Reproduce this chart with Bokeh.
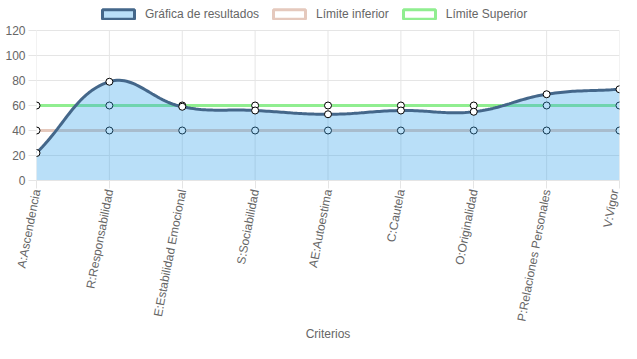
import numpy as np
from bokeh.plotting import figure
from bokeh.models import Range1d, FixedTicker, Legend, LegendItem
from bokeh.embed import file_html
from bokeh.resources import INLINE

# ---- data ----
categories = ["A:Ascendencia", "R:Responsabilidad", "E:Estabilidad Emocional",
              "S:Sociabilidad", "AE:Autoestima", "C:Cautela", "O:Originalidad",
              "P:Relaciones Personales", "V:Vigor"]
resultados = [22, 79, 59, 56, 53, 56, 55, 69, 73]
limite_inferior = [40, 40, 40, 40, 40, 40, 40, 40, 40]
limite_superior = [60, 60, 60, 60, 60, 60, 60, 60, 60]
y_ticks = [0, 20, 40, 60, 80, 100, 120]

FONT = "Liberation Sans"
GRID = "#e5e5e5"
TXT = "#666666"
C_RES_LINE = "#44678a"
C_RES_FILL = "rgb(54,162,235)"
C_LOW = "#e5c9bd"
C_UP = "#90ee90"

xs = list(range(len(categories)))
y_top = y_ticks[-1]
NAN = [float("nan")]


def chartjs_spline(x, y, sx, sy, ymin, ymax, tension=0.4, steps=30):
    """Cubic bezier path as drawn by Chart.js (tension 0.4)."""
    P = np.column_stack([np.asarray(x, float) * sx, np.asarray(y, float) * sy])
    n = len(P)
    cpp = P.copy()
    cpn = P.copy()
    for i in range(n):
        prev = P[i - 1] if i > 0 else P[i]
        nxt = P[i + 1] if i < n - 1 else P[i]
        d01 = np.hypot(*(P[i] - prev))
        d12 = np.hypot(*(nxt - P[i]))
        tot = d01 + d12
        s01 = d01 / tot if tot else 0.0
        s12 = d12 / tot if tot else 0.0
        cpp[i] = P[i] - tension * s01 * (nxt - prev)
        cpn[i] = P[i] + tension * s12 * (nxt - prev)
    cpp[:, 1] = np.clip(cpp[:, 1], ymin * sy, ymax * sy)
    cpn[:, 1] = np.clip(cpn[:, 1], ymin * sy, ymax * sy)
    t = np.linspace(0, 1, steps)[:, None]
    segs = []
    for i in range(n - 1):
        b = ((1 - t) ** 3 * P[i] + 3 * (1 - t) ** 2 * t * cpn[i]
             + 3 * (1 - t) * t ** 2 * cpp[i + 1] + t ** 3 * P[i + 1])
        segs.append(b if i == 0 else b[1:])
    B = np.vstack(segs)
    return B[:, 0] / sx, B[:, 1] / sy


# frame extends above the top tick to host the legend (like Chart.js)
p = figure(width=621, height=343, output_backend="svg", toolbar_location=None,
           x_range=Range1d(0, 8), y_range=Range1d(0, y_top * 1.2),
           min_border_left=36, min_border_right=2, min_border_top=0,
           min_border_bottom=0)
p.outline_line_color = None
p.background_fill_color = "white"
p.border_fill_color = "white"

# grids
p.xgrid.grid_line_color = None
p.ygrid.ticker = FixedTicker(ticks=y_ticks)
p.ygrid.grid_line_color = GRID
p.segment(x0=xs, y0=[0] * len(xs), x1=xs, y1=[y_top] * len(xs),
          line_color=GRID, line_width=1)

# axes
p.xaxis.ticker = FixedTicker(ticks=xs)
p.xaxis.major_label_overrides = {i: c for i, c in enumerate(categories)}
p.xaxis.major_label_orientation = 1.38
p.yaxis.ticker = FixedTicker(ticks=y_ticks)
for ax in (p.xaxis[0], p.yaxis[0]):
    ax.axis_line_color = GRID
    ax.major_tick_line_color = GRID
    ax.major_tick_out = 8
    ax.major_tick_in = 0
    ax.minor_tick_line_color = None
    ax.major_label_text_font = FONT
    ax.major_label_text_font_size = "12px"
    ax.major_label_text_color = TXT
    ax.major_label_standoff = 3
p.yaxis.axis_line_color = None
p.xaxis.major_label_standoff = 1
p.xaxis.axis_label = "Criterios"
p.xaxis.axis_label_text_font = FONT
p.xaxis.axis_label_text_font_size = "12px"
p.xaxis.axis_label_text_font_style = "normal"
p.xaxis.axis_label_text_color = TXT
p.xaxis.axis_label_standoff = 0

# limit lines
p.line(xs, limite_inferior, line_color=C_LOW, line_width=3)
p.scatter(xs, limite_inferior, size=7, fill_color="white", line_color="black", line_width=1)
p.line(xs, limite_superior, line_color=C_UP, line_width=3)
p.scatter(xs, limite_superior, size=7, fill_color="white", line_color="black", line_width=1)

# results (smooth curve + fill to origin)
cx, cy = chartjs_spline(xs, resultados, 74.6, 1.25, 0, y_top)
p.varea(x=cx, y1=np.zeros_like(cy), y2=cy, fill_color=C_RES_FILL, fill_alpha=0.35)
p.line(cx, cy, line_color=C_RES_LINE, line_width=3)
p.scatter(xs, resultados, size=7, fill_color="white", line_color="black", line_width=1)

# legend swatches (placeholder renderers that draw nothing in the plot)
r1 = p.quad(left=NAN, right=NAN, top=NAN, bottom=NAN, fill_color=C_RES_FILL, fill_alpha=0.35,
            line_color=C_RES_LINE, line_width=3)
r2 = p.quad(left=NAN, right=NAN, top=NAN, bottom=NAN, fill_color="white",
            line_color=C_LOW, line_width=3)
r3 = p.quad(left=NAN, right=NAN, top=NAN, bottom=NAN, fill_color="white",
            line_color=C_UP, line_width=3)
legend = Legend(items=[LegendItem(label="Gráfica de resultados", renderers=[r1]),
                       LegendItem(label="Límite inferior", renderers=[r2]),
                       LegendItem(label="Límite Superior", renderers=[r3])],
                orientation="horizontal", location=(62, 159),
                border_line_color=None, background_fill_alpha=0,
                glyph_width=40, glyph_height=12, label_standoff=7, spacing=10,
                padding=2, margin=0,
                label_text_font=FONT, label_text_font_size="12px",
                label_text_color=TXT)
p.add_layout(legend, "center")

open("out.html", "w").write(file_html(p, INLINE))
